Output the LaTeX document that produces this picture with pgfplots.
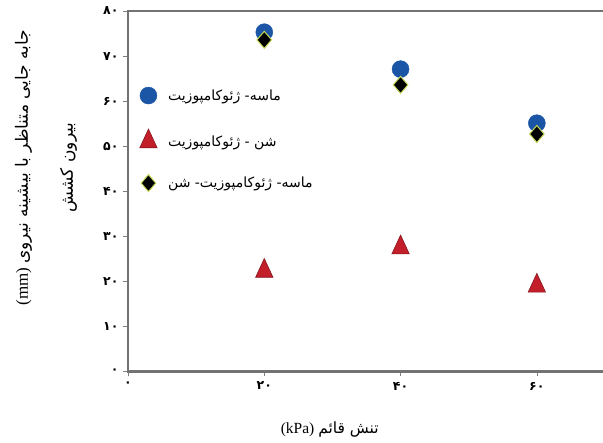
\documentclass[border=0pt]{standalone}
\usepackage{fontspec}
\setmainfont{Liberation Serif}
\newfontfamily\arabicfont[Script=Arabic]{DejaVu Sans}
\usepackage{pgfplots}
\pgfplotsset{compat=1.18}
\TeXXeTstate=1
\definecolor{cblue}{HTML}{1B55A6}
\definecolor{cred}{HTML}{C21F2B}
\definecolor{cedge}{HTML}{C9DA5A}
\begin{document}
\begin{tikzpicture}
\begin{axis}[
  name=ax,
  scale only axis, width=477pt, height=360.5pt,
  xmin=0, xmax=70, ymin=0, ymax=80,
  xtick={0,20,40,60}, xticklabels={۰,۲۰,۴۰,۶۰},
  ytick={0,10,...,80}, yticklabels={۰,۱۰,۲۰,۳۰,۴۰,۵۰,۶۰,۷۰,۸۰},
  tick pos=left, tick align=outside, major tick length=5pt,
  tick style={gray, line width=0.6pt},
  axis line style={draw=black!55, line width=2.6pt},
  ticklabel style={font=\arabicfont\bfseries\fontsize{12.5}{14}\selectfont},
  xticklabel style={yshift=-2pt},
  yticklabel style={xshift=-1pt},
  xlabel={(kPa) \arabicfont\beginR تنش قائم\endR},
  xlabel style={at={(axis description cs:0.423,-0.16)}, anchor=center, font=\fontsize{15.5}{18}\selectfont},
  ylabel={(mm) \arabicfont\beginR جابه جایی متناظر با بیشینه نیروی\endR\\[26pt]\arabicfont\beginR بیرون کشش\endR},
  ylabel style={at={(axis description cs:-0.172,0.565)}, anchor=center, align=center, font=\fontsize{17}{19}\selectfont},
  legend style={at={(axis description cs:0.018,0.644)}, anchor=west, draw=none, fill=none,
    row sep=25pt, font=\arabicfont\fontsize{14}{16}\selectfont,
    /tikz/every odd column/.append style={column sep=9pt}},
  legend cell align=left,
]
\addplot[only marks, mark=*, mark size=8.5pt, mark options={fill=cblue, draw=cblue}]
  coordinates {(20,75.3) (40,67.1) (60,55.1)};
\addlegendentry{\beginR ماسه- ژئوکامپوزیت\endR}
\addplot[only marks, mark=triangle*, mark size=10pt, mark options={fill=cred, draw=cred!70!black, yscale=1.25, line width=0.6pt}]
  coordinates {(20,22.3) (40,27.5) (60,19.0)};
\addlegendentry{\beginR شن - ژئوکامپوزیت\endR}
\addplot[only marks, mark=diamond*, mark size=8.5pt, mark options={fill=black, draw=cedge, line width=1pt, xscale=1.15}]
  coordinates {(20,73.6) (40,63.6) (60,52.7)};
\addlegendentry{\beginR ماسه- ژئوکامپوزیت- شن\endR}
\end{axis}
\pgfresetboundingbox
\path ([xshift=-128pt,yshift=-71pt]ax.south west) rectangle ([xshift=-2pt,yshift=11pt]ax.north east);
\end{tikzpicture}
\end{document}
